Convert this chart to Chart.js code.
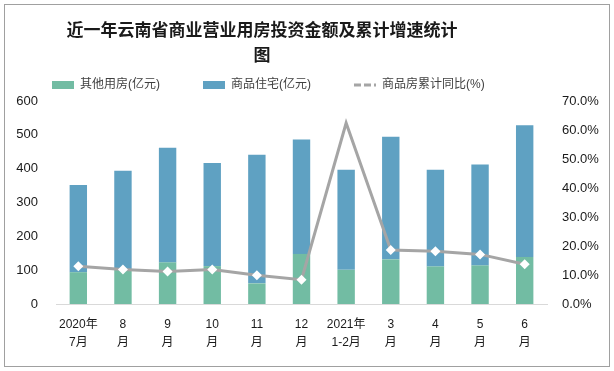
<!DOCTYPE html>
<html>
<head>
<meta charset="utf-8">
<script src="https://cdn.jsdelivr.net/npm/chart.js@4/dist/chart.umd.min.js"></script>
<style>
  html, body { margin: 0; padding: 0; background: #fff; }
  #wrap { width: 614px; height: 371px; }
</style>
</head>
<body>
<div id="wrap"><canvas id="mainChart" width="614" height="371"></canvas></div>
<script>
// data
const months = [
    ['2020年', '7月'], ['8', '月'], ['9', '月'], ['10', '月'], ['11', '月'], ['12', '月'],
    ['2021年', '1-2月'], ['3', '月'], ['4', '月'], ['5', '月'], ['6', '月']
];
const otherHousing = [94, 102, 123, 112, 61, 148, 101, 132, 111, 114, 139];   // 其他用房(亿元)
const residential = [258, 292, 339, 305, 380, 338, 296, 362, 286, 298, 389];  // 商品住宅(亿元)
const growthRate = [13.0, 11.9, 11.2, 11.9, 9.9, 8.4, 62.4, 18.6, 18.2, 17.1, 13.7]; // 商品房累计同比(%)
const leftTicks = [0, 600, 100];
const rightTicks = [0, 70, 10];

const green = '#72bca3';
const blue = '#5fa1c2';
const gray = '#a5a5a5';
const fontFamily = '"Liberation Sans", "Noto Sans CJK SC", sans-serif';

(function () {
    "use strict";

    // frame + shift of title/legend to match the original layout
    var framePlugin = {
        id: 'frame',
        afterLayout: function (chart) {
            chart.titleBlock.left = 17;
            chart.titleBlock.right = 507;
            chart.legend.left = 52 - chart.options.plugins.legend.labels.padding;
        },
        beforeDraw: function (chart) {
            const ctx = chart.ctx;
            ctx.save();
            ctx.fillStyle = '#fff';
            ctx.fillRect(0, 0, chart.width, chart.height);
            ctx.restore();
        },
        afterDraw: function (chart) {
            const ctx = chart.ctx;
            ctx.save();
            ctx.strokeStyle = '#a0a0a0';
            ctx.lineWidth = 1;
            ctx.strokeRect(4.5, 4.5, 605, 362);
            ctx.restore();
        }
    };

    var pointSizes = growthRate.map(function (v, i) { return i === 6 ? 0 : 5; });

    var ctx = document.getElementById('mainChart').getContext('2d');
    var myChart = new Chart(ctx, {
        type: 'bar',
        data: {
            labels: months,
            datasets: [{
                label: '其他用房(亿元)',
                data: otherHousing,
                backgroundColor: green,
                yAxisID: 'y',
                order: 1
            }, {
                label: '商品住宅(亿元)',
                data: residential,
                backgroundColor: blue,
                yAxisID: 'y',
                order: 1
            }, {
                type: 'line',
                label: '商品房累计同比(%)',
                data: growthRate,
                borderColor: gray,
                borderWidth: 3,
                pointStyle: 'rectRot',
                pointRadius: pointSizes,
                pointBackgroundColor: '#fff',
                pointBorderColor: '#fff',
                pointBorderWidth: 0,
                tension: 0,
                yAxisID: 'y1',
                order: 0
            }]
        },
        options: {
            responsive: false,
            animation: false,
            layout: { padding: { top: 5, left: 5, right: 5, bottom: 15 } },
            datasets: { bar: { barPercentage: 0.39, categoryPercentage: 1 } },
            plugins: {
                tooltip: { enabled: false },
                title: {
                    display: true,
                    text: ['近一年云南省商业营业用房投资金额及累计增速统计', '图'],
                    color: '#1a1a1a',
                    font: { family: '"Noto Sans CJK SC", sans-serif', size: 17, weight: 'bold', lineHeight: 1.47 },
                    padding: { top: 12, bottom: -31 }
                },
                legend: {
                    display: true,
                    align: 'start',
                    labels: {
                        usePointStyle: true,
                        pointStyleWidth: 22,
                        boxHeight: 8,
                        padding: 43,
                        color: '#404040',
                        font: { family: fontFamily, size: 12 },
                        generateLabels: function (chart) {
                            var items = Chart.defaults.plugins.legend.labels.generateLabels(chart);
                            items.forEach(function (it) {
                                if (it.datasetIndex === 2) {
                                    it.pointStyle = 'line';
                                    it.lineDash = [7, 3];
                                    it.lineWidth = 3;
                                    it.strokeStyle = gray;
                                } else {
                                    it.pointStyle = 'rect';
                                    it.lineDash = [];
                                    it.lineWidth = 0;
                                }
                            });
                            return items.sort(function (a, b) { return a.datasetIndex - b.datasetIndex; });
                        }
                    }
                }
            },
            scales: {
                x: {
                    stacked: true,
                    grid: { display: false },
                    border: { display: true, color: '#d9d9d9', width: 1 },
                    ticks: {
                        maxRotation: 0,
                        autoSkip: false,
                        padding: 4,
                        color: '#1a1a1a',
                        font: { family: fontFamily, size: 12, lineHeight: 1.5 }
                    }
                },
                y: {
                    stacked: true,
                    position: 'left',
                    min: leftTicks[0],
                    max: leftTicks[1],
                    grid: { display: false },
                    border: { display: false },
                    ticks: {
                        stepSize: leftTicks[2],
                        padding: 10,
                        color: '#1a1a1a',
                        font: { family: fontFamily, size: 13 }
                    },
                    afterFit: function (scale) { scale.width = 51; }
                },
                y1: {
                    position: 'right',
                    min: rightTicks[0],
                    max: rightTicks[1],
                    grid: { display: false },
                    border: { display: false },
                    ticks: {
                        stepSize: rightTicks[2],
                        padding: 7,
                        color: '#1a1a1a',
                        font: { family: fontFamily, size: 13 },
                        callback: function (v) { return v.toFixed(1) + '%'; }
                    },
                    afterFit: function (scale) { scale.width = 62; }
                }
            }
        },
        plugins: [framePlugin]
    });
})();
</script>
</body>
</html>
